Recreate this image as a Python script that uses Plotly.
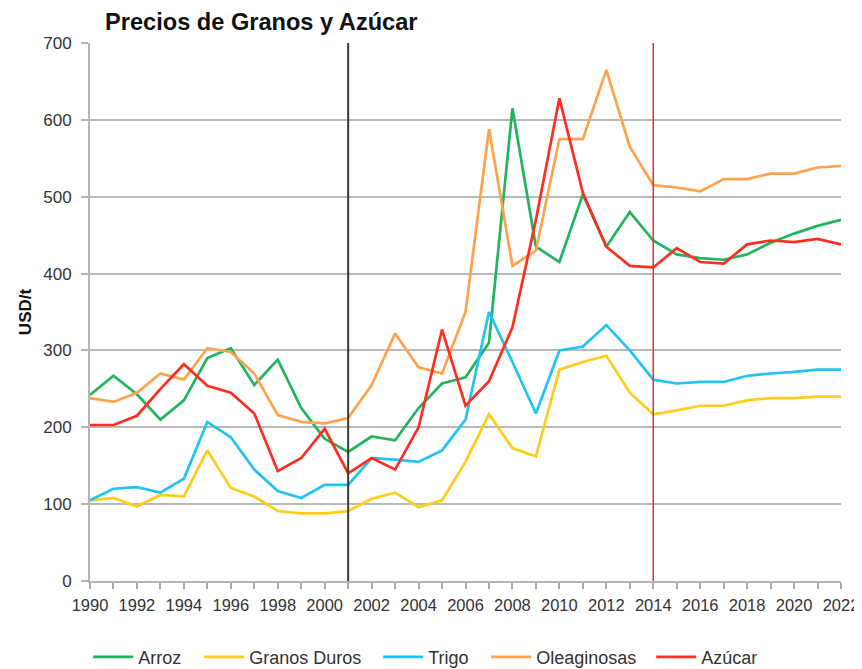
import plotly.graph_objects as go

years = list(range(1990, 2023))

arroz = [242, 267, 243, 210, 235, 290, 303, 255, 288, 225, 185, 168, 188, 183, 225, 257, 265, 310, 615, 435,
         415, 503, 435, 480, 443, 425, 420, 418, 425, 440, 452, 462, 470]
granos_duros = [105, 108, 97, 112, 110, 170, 121, 110, 91, 88, 88, 91, 107, 115, 96, 105, 155, 217, 173, 162,
                275, 285, 293, 245, 217, 222, 228, 228, 235, 238, 238, 240, 240]
trigo = [105, 120, 122, 115, 133, 207, 187, 145, 117, 108, 125, 125, 160, 158, 155, 170, 210, 350, 285, 218,
         300, 305, 333, 300, 262, 257, 259, 259, 267, 270, 272, 275, 275]
oleaginosas = [238, 233, 245, 270, 262, 303, 298, 270, 216, 207, 205, 212, 255, 322, 278, 270, 350, 588, 410, 430,
               575, 575, 665, 565, 515, 512, 507, 523, 523, 530, 530, 538, 540]
azucar = [203, 203, 215, 250, 282, 254, 245, 218, 143, 160, 198, 140, 160, 145, 200, 327, 228, 260, 330, 470,
          628, 505, 435, 410, 408, 433, 415, 413, 438, 443, 441, 445, 438]

# name, values, colour, legend entry width
series = [
    ("Arroz", arroz, "#22b35e", 56),
    ("Granos Duros", granos_duros, "#ffcc1a", 124),
    ("Trigo", trigo, "#22c3f3", 53),
    ("Oleaginosas", oleaginosas, "#ffa24d", 110),
    ("Azúcar", azucar, "#ff2d1f", 60),
]

# years marked with vertical lines
mark_black = 2001
mark_red = 2014

fig = go.Figure()
for name, vals, color, lw in series:
    fig.add_trace(go.Scatter(x=years, y=vals, name=name, mode="lines", legendwidth=lw,
                             line=dict(color=color, width=2.7)))

fig.add_shape(type="line", xref="x", yref="paper", x0=mark_black, x1=mark_black, y0=0, y1=1,
              line=dict(color="#3a3a3a", width=2))
fig.add_shape(type="line", xref="x", yref="paper", x0=mark_red, x1=mark_red, y0=0, y1=1,
              line=dict(color="#e0312a", width=1.5))

# page body has an 8px margin, so the figure is 8px smaller each way
fig.update_layout(
    width=854, height=661,
    margin=dict(l=82, r=21, t=35, b=88),
    paper_bgcolor="white", plot_bgcolor="white",
    font=dict(family="Liberation Sans, Arial, sans-serif", color="#333333", size=17),
    title=dict(text="<b>Precios de Granos y Azúcar</b>", x=0.1136, xanchor="left", y=0.979, yanchor="middle",
               pad=dict(l=0, t=0, b=0, r=0), font=dict(size=23.6, color="#111111")),
    legend=dict(orientation="h", x=0.449, xanchor="center", yref="container", y=0.018, yanchor="middle",
                font=dict(size=18, color="#333333"), itemwidth=40, traceorder="normal"),
)

fig.update_xaxes(range=[1990, 2022], tickvals=list(range(1990, 2023, 2)), automargin=False,
                 ticks="outside", ticklen=6, tickcolor="#aaaaaa", tickwidth=1.5, ticklabelstandoff=2,
                 minor=dict(dtick=1, ticks="outside", ticklen=6, tickcolor="#aaaaaa", tickwidth=1.5, showgrid=False),
                 showgrid=False, showline=True, linecolor="#b5b5b5", linewidth=2,
                 tickfont=dict(size=16.5), zeroline=False)
fig.update_yaxes(range=[0, 700], dtick=100, ticks="outside", ticklen=7, tickcolor="#b5b5b5", tickwidth=2,
                 automargin=False, ticklabelstandoff=6,
                 showgrid=True, gridcolor="#b8b8b8", gridwidth=2,
                 showline=True, linecolor="#b5b5b5", linewidth=2, zeroline=False,
                 tickfont=dict(size=17),
                 title=dict(text="<b>USD/t</b>", font=dict(size=17, color="#111111"), standoff=7))

fig.write_html("out.html")
